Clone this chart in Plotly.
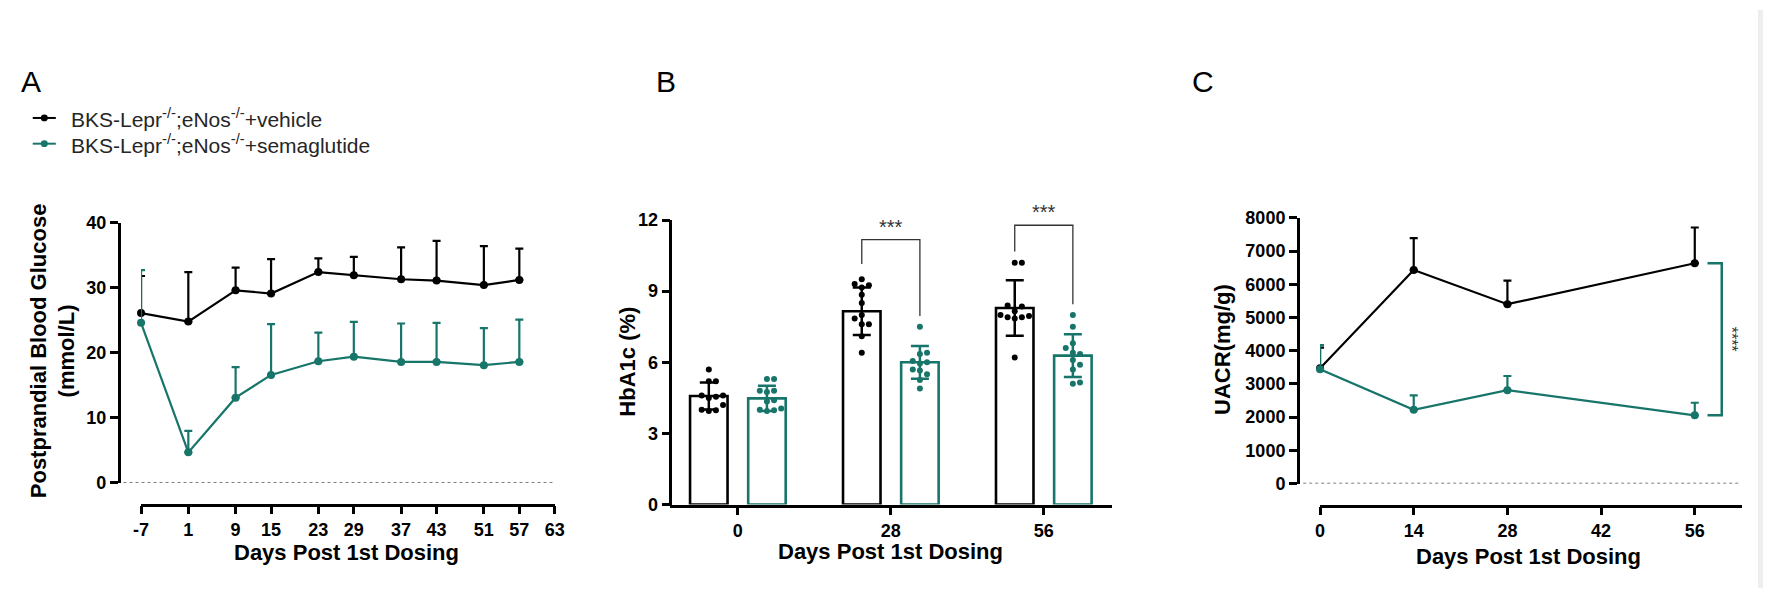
import plotly.graph_objects as go

W, H = 1773, 598
BLACK = "#000000"
TEAL = "#17756a"
FONT = "Liberation Sans, Arial, sans-serif"

# ---------------- data ----------------
# Panel A: postprandial blood glucose (mean, upper SD)
days_A = [-7, 1, 9, 15, 23, 29, 37, 43, 51, 57]
ticks_A = [-7, 1, 9, 15, 23, 29, 37, 43, 51, 57, 63]
veh_A = [26.1, 24.8, 29.6, 29.1, 32.4, 31.9, 31.3, 31.1, 30.4, 31.2]
veh_A_sd = [5.7, 7.6, 3.5, 5.3, 2.1, 2.85, 4.9, 6.1, 6.0, 4.8]
sema_A = [24.6, 4.7, 13.1, 16.6, 18.7, 19.4, 18.6, 18.6, 18.1, 18.6]
sema_A_sd = [8.1, 3.3, 4.7, 7.8, 4.4, 5.35, 5.9, 6.0, 5.7, 6.5]

# Panel B: HbA1c
days_B = ["0", "28", "56"]
veh_B = [4.58, 8.15, 8.29]
veh_B_sd = [0.57, 1.0, 1.17]
sema_B = [4.48, 6.0, 6.28]
sema_B_sd = [0.53, 0.69, 0.9]
veh_B_pts = [
    [5.7, 5.2, 5.2, 4.6, 4.6, 4.55, 4.5, 4.2, 3.98, 3.95, 4.0],
    [9.5, 9.3, 9.25, 9.15, 8.85, 8.5, 8.0, 7.85, 7.6, 7.6, 7.1, 6.4],
    [10.2, 10.2, 8.4, 8.35, 8.15, 8.0, 7.95, 7.9, 7.9, 7.85, 6.2],
]
sema_B_pts = [
    [5.3, 5.3, 4.8, 4.8, 4.75, 4.4, 4.35, 4.05, 4.0, 3.98, 3.95],
    [7.5, 6.4, 6.35, 6.05, 6.0, 5.95, 5.7, 5.65, 5.5, 5.25, 4.9],
    [8.0, 7.5, 6.8, 6.6, 6.4, 6.35, 6.1, 5.9, 5.7, 5.15, 5.1],
]
sig_B_idx = [1, 2]
sig_B_left = [10.15, 10.67]
sig_B_top = [11.17, 11.78]
sig_B_right = [7.95, 8.45]
sig_B_text = ["***", "***"]

# Panel C: UACR
days_C = [0, 14, 28, 56]
ticks_C = [0, 14, 28, 42, 56]
veh_C = [3472, 6429, 5401, 6633]
veh_C_sd = [620, 960, 708, 1076]
sema_C = [3442, 2221, 2812, 2056]
sema_C_sd = [728, 436, 427, 378]

legend_names = ["BKS-Lepr<sup>-/-</sup>;eNos<sup>-/-</sup>+vehicle",
                "BKS-Lepr<sup>-/-</sup>;eNos<sup>-/-</sup>+semaglutide"]


def fx(px):
    return px / W


def fy(py):
    return 1 - py / H


fig = go.Figure()

# ---------------- Panel A ----------------
for vals, sd, col in [(veh_A, veh_A_sd, BLACK), (sema_A, sema_A_sd, TEAL)]:
    fig.add_trace(go.Scatter(
        x=days_A, y=vals, mode="lines+markers", xaxis="x", yaxis="y",
        line=dict(color=col, width=2.2), marker=dict(color=col, size=8),
        error_y=dict(type="data", array=sd, arrayminus=[0] * len(sd), symmetric=False,
                     color=col, thickness=2.2, width=4),
        cliponaxis=False, showlegend=False))

# ---------------- Panel B ----------------
BARGAP = 0.24
GROUPGAP = 0.355
off = (1 - BARGAP) / 4
idx_B = list(range(len(days_B)))
fig.add_trace(go.Bar(x=idx_B, y=veh_B, xaxis="x2", yaxis="y2",
                     marker=dict(color="white", line=dict(color=BLACK, width=2.6)),
                     error_y=dict(type="data", array=veh_B_sd, color=BLACK, thickness=2.5, width=9),
                     showlegend=False))
fig.add_trace(go.Bar(x=idx_B, y=sema_B, xaxis="x2", yaxis="y2",
                     marker=dict(color="white", line=dict(color=TEAL, width=2.6)),
                     error_y=dict(type="data", array=sema_B_sd, color=TEAL, thickness=2.5, width=9),
                     showlegend=False))

PXX_B = 154.5  # px per category unit
PXY_B = 294.4 / 12  # px per % unit


def swarm(vals, center, d=7.2):
    placed = []
    xs = [0.0] * len(vals)
    order = sorted(range(len(vals)), key=lambda i: vals[i])
    for i in order:
        ypx = vals[i] * PXY_B
        cands = [0.0]
        for k in range(1, 12):
            cands += [k * d, -k * d]
        for c in cands:
            if all((c - px) ** 2 + (ypx - py) ** 2 >= (d * 0.95) ** 2 for px, py in placed):
                placed.append((c, ypx))
                xs[i] = center + c / PXX_B
                break
    return xs


for k in idx_B:
    for pts, sign, col in [(veh_B_pts[k], -1, BLACK), (sema_B_pts[k], 1, TEAL)]:
        fig.add_trace(go.Scatter(
            x=swarm(pts, k + sign * off), y=pts, mode="markers", xaxis="x2", yaxis="y2",
            marker=dict(color=col, size=6), showlegend=False, cliponaxis=False))

# ---------------- Panel C ----------------
for vals, sd, col in [(veh_C, veh_C_sd, BLACK), (sema_C, sema_C_sd, TEAL)]:
    fig.add_trace(go.Scatter(
        x=days_C, y=vals, mode="lines+markers", xaxis="x3", yaxis="y3",
        line=dict(color=col, width=2.2), marker=dict(color=col, size=8),
        error_y=dict(type="data", array=sd, arrayminus=[0] * len(sd), symmetric=False,
                     color=col, thickness=2.2, width=4),
        cliponaxis=False, showlegend=False))

# ---------------- axes ----------------
axcommon = dict(showline=True, linewidth=2.5, linecolor=BLACK, ticks="outside",
                ticklen=8, tickwidth=2.5, tickcolor=BLACK, showgrid=False, zeroline=False,
                tickfont=dict(family=FONT, size=18, color=BLACK, weight="bold"))

fig.update_layout(
    width=W, height=H, margin=dict(l=0, r=0, t=0, b=0),
    paper_bgcolor="white", plot_bgcolor="white", showlegend=False,
    barmode="group", bargap=BARGAP, bargroupgap=GROUPGAP,
    xaxis=dict(domain=[fx(134.4), fx(552.4)], range=[-7, 63], anchor="free",
               position=fy(511.7), tickvals=ticks_A, ticktext=[str(v) for v in ticks_A],
               **axcommon),
    yaxis=dict(domain=[fy(489.3), fy(220)], range=[0, 40], anchor="free",
               position=fx(111.7), tickvals=[0, 10, 20, 30, 40], **axcommon),
    xaxis2=dict(domain=[fx(669.2), fx(1115.2)], range=[-0.441, 2.445], anchor="y2",
                tickvals=idx_B, ticktext=days_B, **axcommon),
    yaxis2=dict(domain=[fy(511.7), fy(217.3)], range=[0, 12], anchor="free",
                position=fx(669.2), tickvals=[0, 3, 6, 9, 12], **axcommon),
    xaxis3=dict(domain=[fx(1325.5), fx(1751.4)], range=[0, 63], anchor="free",
                position=fy(512.7), tickvals=ticks_C, **axcommon),
    yaxis3=dict(domain=[fy(490), fy(215)], range=[0, 8000], anchor="free",
                position=fx(1303), tickvals=list(range(0, 8001, 1000)), **axcommon),
)

shapes = []
# dotted zero lines
shapes.append(dict(type="line", xref="paper", yref="y", x0=fx(116.7), x1=fx(550), y0=0, y1=0,
                   line=dict(color="#555555", width=1.5, dash="dot")))
shapes.append(dict(type="line", xref="paper", yref="y3", x0=fx(1308.5), x1=fx(1748.5), y0=0, y1=0,
                   line=dict(color="#555555", width=1.5, dash="dot")))
# significance brackets panel B
for i, l, t, r in zip(sig_B_idx, sig_B_left, sig_B_top, sig_B_right):
    xl, xr = i - off, i + off
    shapes.append(dict(type="path", xref="x2", yref="y2",
                       path=f"M {xl} {l} L {xl} {t} L {xr} {t} L {xr} {r}",
                       line=dict(color="#333333", width=1.3)))
# bracket panel C
shapes.append(dict(type="path", xref="x3", yref="y3",
                   path=f"M 57.9 {veh_C[-1]} L 60.03 {veh_C[-1]} L 60.03 {sema_C[-1]} L 57.9 {sema_C[-1]}",
                   line=dict(color=TEAL, width=2.5)))
# legend glyphs
for ypx, col in [(111.7, BLACK), (138.3, TEAL)]:
    shapes.append(dict(type="line", xref="paper", yref="paper", x0=fx(25), x1=fx(48.3),
                       y0=fy(ypx), y1=fy(ypx), line=dict(color=col, width=2)))
    shapes.append(dict(type="circle", xref="paper", yref="paper", x0=fx(33.2), x1=fx(40.2),
                       y0=fy(ypx + 3.5), y1=fy(ypx - 3.5), fillcolor=col, line=dict(width=0)))
# faint right border
shapes.append(dict(type="rect", xref="paper", yref="paper", x0=fx(1768), x1=1, y0=0, y1=1,
                   fillcolor="#eeeeee", line=dict(width=0), layer="below"))
fig.update_layout(shapes=shapes)

ann = []
title_font = dict(family=FONT, size=22, color=BLACK, weight="bold")
# y titles
ann.append(dict(text="Postprandial Blood Glucose<br>(mmol/L)", x=fx(45.5), y=fy(353), xref="paper",
                yref="paper", textangle=-90, showarrow=False, font=title_font,
                xanchor="center", yanchor="middle"))
ann.append(dict(text="HbA1c (%)", x=fx(626.2), y=fy(364), xref="paper", yref="paper",
                textangle=-90, showarrow=False, font=title_font, xanchor="center", yanchor="middle"))
ann.append(dict(text="UACR(mg/g)", x=fx(1227.4), y=fy(350.7), xref="paper", yref="paper",
                textangle=-90, showarrow=False, font=title_font, xanchor="center", yanchor="middle"))
# x titles
for xc, yc in [(341.7, 561.7), (891.3, 560), (1536.2, 565)]:
    ann.append(dict(text="Days Post 1st Dosing", x=fx(xc), y=fy(yc), xref="paper", yref="paper",
                    showarrow=False, font=title_font, xanchor="center", yanchor="middle"))
# panel letters
for lab, xc in [("A", 23), ("B", 665), ("C", 1207.6)]:
    ann.append(dict(text=lab, x=fx(xc), y=fy(74), xref="paper", yref="paper", showarrow=False,
                    font=dict(family=FONT, size=30, color=BLACK), xanchor="center", yanchor="middle"))
# legend text
for name, ypx in zip(legend_names, [111.7, 138.3]):
    ann.append(dict(text=name, x=fx(61.7), y=fy(ypx), xref="paper", yref="paper", showarrow=False,
                    font=dict(family=FONT, size=21, color="#262626"), xanchor="left", yanchor="middle"))
# stars panel B
for i, t, s in zip(sig_B_idx, sig_B_top, sig_B_text):
    ann.append(dict(text=s, x=i, y=t, xref="x2", yref="y2", showarrow=False,
                    font=dict(family=FONT, size=20, color="#333333"), xanchor="center", yanchor="bottom"))
# stars panel C
ann.append(dict(text="****", x=61.5, y=(veh_C[-1] + sema_C[-1]) / 2, xref="x3", yref="y3",
                textangle=90, showarrow=False, font=dict(family=FONT, size=16, color="#333333"),
                xanchor="center", yanchor="middle"))
fig.update_layout(annotations=ann)

fig.write_html("out.html")
